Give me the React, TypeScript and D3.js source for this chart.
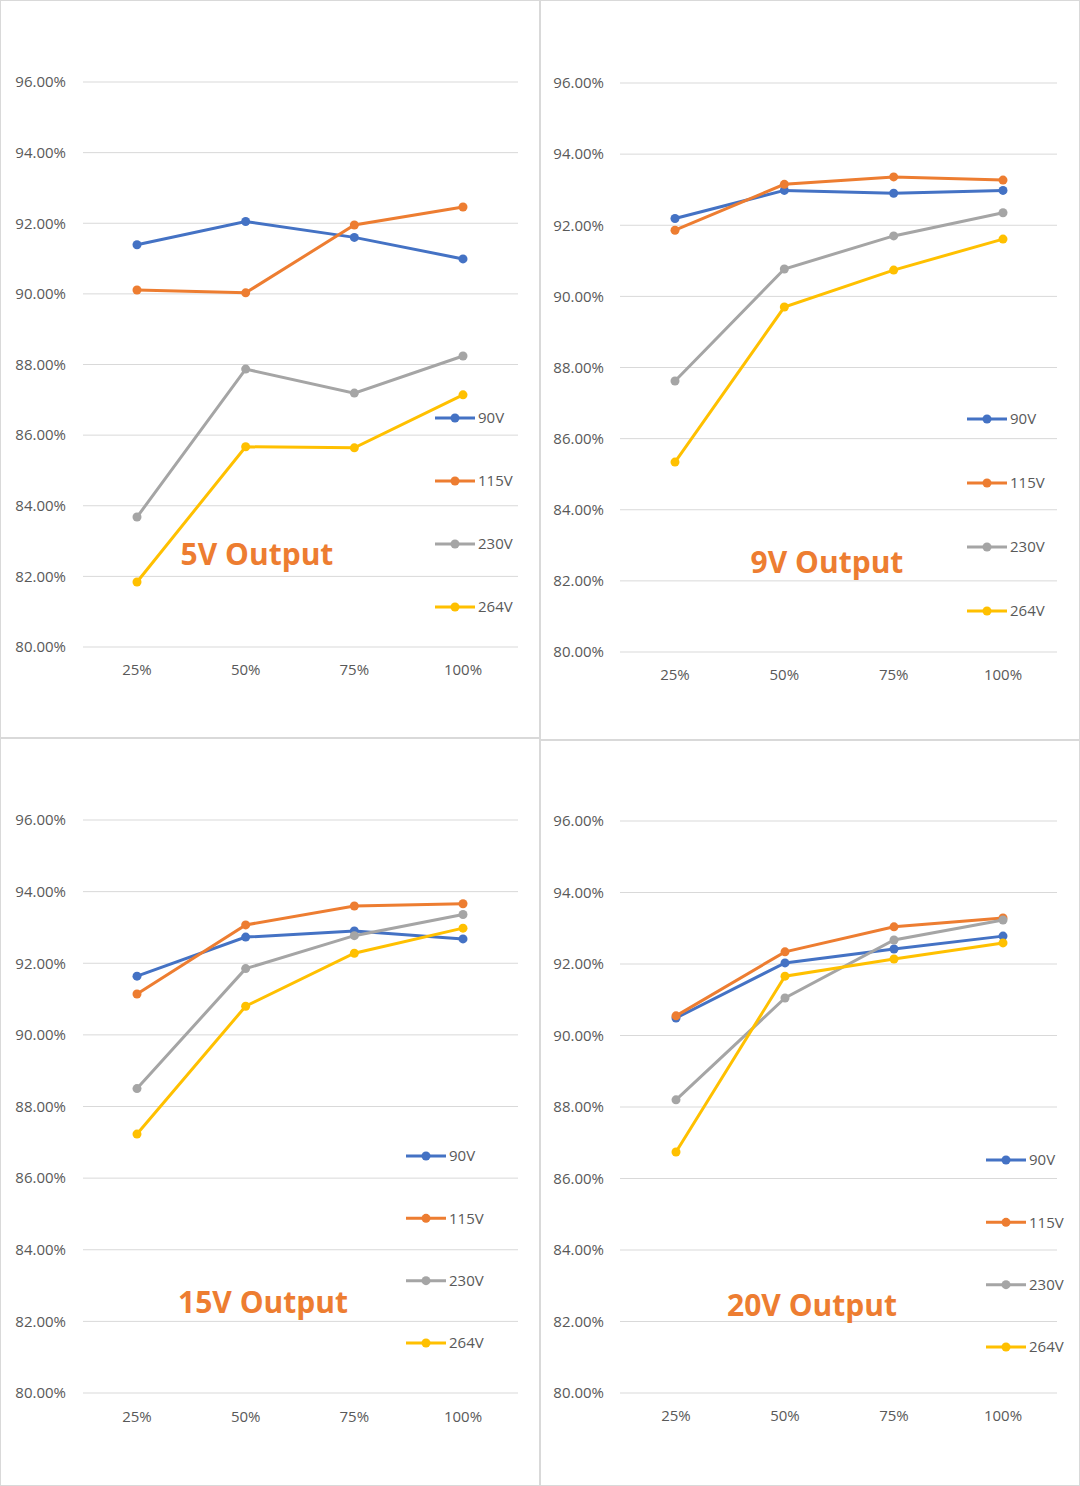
import React from 'react';
import * as d3 from 'd3';

// ─── data ───
const loads = ['25%', '50%', '75%', '100%'];
const seriesNames = ['90V', '115V', '230V', '264V'];
const colors = ['#4472C4', '#ED7D31', '#A5A5A5', '#FFC000'];
const yTicks = [80, 82, 84, 86, 88, 90, 92, 94, 96];

const titles = ['5V Output', '9V Output', '15V Output', '20V Output'];
const out5V = [
  [91.39, 92.05, 91.6, 90.99],
  [90.11, 90.03, 91.95, 92.46],
  [83.68, 87.87, 87.19, 88.24],
  [81.84, 85.67, 85.64, 87.14],
];
const out9V = [
  [92.19, 92.98, 92.9, 92.98],
  [91.86, 93.15, 93.36, 93.27],
  [87.62, 90.77, 91.7, 92.35],
  [85.34, 89.7, 90.74, 91.61],
];
const out15V = [
  [91.64, 92.73, 92.9, 92.68],
  [91.14, 93.07, 93.6, 93.66],
  [88.5, 91.85, 92.77, 93.36],
  [87.23, 90.8, 92.28, 92.98],
];
const out20V = [
  [90.49, 92.03, 92.42, 92.78],
  [90.55, 92.34, 93.04, 93.29],
  [88.2, 91.05, 92.67, 93.23],
  [86.74, 91.66, 92.14, 92.59],
];
const allData = [out5V, out9V, out15V, out20V];

// ─── 面板布局 ───
const panels = [
  { box: [0, 0, 540, 738], gx: [83, 518], gy: [82, 647], xl: [137, 463], xly: 670, lgx: 435, lgy: [418, 607], tx: 257, ty: 554, labR: 66 },
  { box: [540, 0, 540, 740], gx: [620, 1057], gy: [83, 652], xl: [675, 1003], xly: 675, lgx: 967, lgy: [419, 611], tx: 827, ty: 562, labR: 604 },
  { box: [0, 738, 540, 748], gx: [83, 518], gy: [820, 1393], xl: [137, 463], xly: 1417, lgx: 406, lgy: [1156, 1343], tx: 263, ty: 1302, labR: 66 },
  { box: [540, 740, 540, 746], gx: [620, 1057], gy: [821, 1393], xl: [676, 1003], xly: 1416, lgx: 986, lgy: [1160, 1347], tx: 812, ty: 1305, labR: 604 },
];

const font = 'Segoe UI, "Open Sans", "DejaVu Sans", sans-serif';

const Panel: React.FC<{ i: number }> = ({ i }) => {
  const p = panels[i];
  const data = allData[i];
  const y = d3.scaleLinear().domain([80, 96]).range([p.gy[1], p.gy[0]]);
  const x = d3.scalePoint<string>().domain(loads).range(p.xl);
  const lg = d3.scalePoint<string>().domain(seriesNames).range(p.lgy);
  const line = d3.line<number>().x((_, k) => x(loads[k])!).y(v => y(v));
  return (
    <g>
      <rect x={p.box[0] + 0.5} y={p.box[1] + 0.5} width={p.box[2] - 1} height={p.box[3] - 1}
        fill="#fff" stroke="#d9d9d9" />
      {yTicks.map(t => (
        <g key={t}>
          <line x1={p.gx[0]} x2={p.gx[1]} y1={y(t)} y2={y(t)} stroke="#d9d9d9" />
          <text x={p.labR} y={y(t)} dy="0.35em" textAnchor="end" fontSize={15} fill="#595959">
            {t.toFixed(2)}%
          </text>
        </g>
      ))}
      {loads.map(l => (
        <text key={l} x={x(l)} y={p.xly} dy="0.35em" textAnchor="middle" fontSize={15} fill="#595959">{l}</text>
      ))}
      {data.map((s, k) => (
        <g key={k}>
          <path d={line(s)!} fill="none" stroke={colors[k]} strokeWidth={3} />
          {s.map((v, j) => <circle key={j} cx={x(loads[j])} cy={y(v)} r={4.5} fill={colors[k]} />)}
        </g>
      ))}
      {seriesNames.map((n, k) => (
        <g key={n}>
          <line x1={p.lgx} x2={p.lgx + 40} y1={lg(n)} y2={lg(n)} stroke={colors[k]} strokeWidth={3} />
          <circle cx={p.lgx + 20} cy={lg(n)} r={4.5} fill={colors[k]} />
          <text x={p.lgx + 43} y={lg(n)} dy="0.35em" fontSize={15} fill="#595959">{n}</text>
        </g>
      ))}
      <text x={p.tx} y={p.ty} dy="0.35em" textAnchor="middle" fontSize={30} fontWeight="bold" fill="#ED7D31">
        {titles[i]}
      </text>
    </g>
  );
};

export default function App() {
  return (
    <svg width={1080} height={1486} style={{ position: 'absolute', left: 0, top: 0, fontFamily: font }}>
      <rect width={1080} height={1486} fill="#fff" />
      {panels.map((_, i) => <Panel key={i} i={i} />)}
    </svg>
  );
}
